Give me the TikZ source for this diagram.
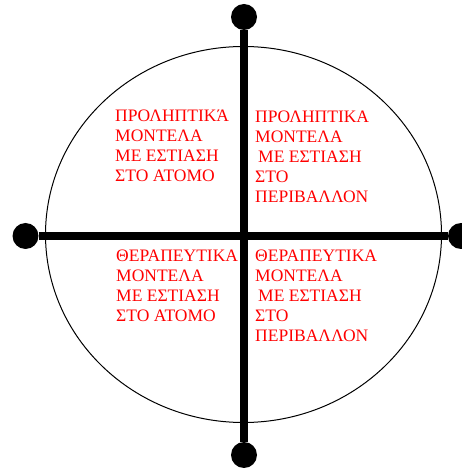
\documentclass[tikz,border=0pt]{standalone}
\usepackage{fontspec}
\setmainfont{Liberation Serif}
\usepackage{tikz}
\usetikzlibrary{positioning}

\begin{document}
\begin{tikzpicture}[
        x=1pt,
        y=1pt,
        axis/.style={line width=8pt, black},
        dot/.style={circle, fill=black, inner sep=0pt, minimum size=26pt},
        model/.style={red, align=left, anchor=base west, inner sep=0pt,
            font=\fontsize{17.5}{20}\selectfont}
    ]
        \useasboundingbox (0,0) rectangle (462,469);

        % outer ring
        \draw[line width=1pt] (243.5,234.5) ellipse [x radius=198, y radius=188];

        % axis end points
        \foreach \name/\x/\y in {top/244/452,bottom/244/14,left/25.5/233,right/461/233} {
            \node[dot] (\name) at (\x,\y) {};
        }
        \draw[axis] (top) -- (bottom);
        \draw[axis] (left) -- (right);

        % the four quadrants (placed by the baseline of the last line)
        \node[model] (prevind) at (115,287) {ΠΡΟΛΗΠΤΙΚΆ\\ΜΟΝΤΕΛΑ\\ΜΕ ΕΣΤΙΑΣΗ\\ΣΤΟ ΑΤΟΜΟ};
        \node[model] (prevenv) at (255,266) {ΠΡΟΛΗΠΤΙΚΑ\\ΜΟΝΤΕΛΑ\\\hspace{3pt}ΜΕ ΕΣΤΙΑΣΗ\\ΣΤΟ\\ΠΕΡΙΒΑΛΛΟΝ};
        \node[model] (therind) at (116,147) {ΘΕΡΑΠΕΥΤΙΚΑ\\ΜΟΝΤΕΛΑ\\ΜΕ ΕΣΤΙΑΣΗ\\ΣΤΟ ΑΤΟΜΟ};
        \node[model] (therenv) at (255,127) {ΘΕΡΑΠΕΥΤΙΚΑ\\ΜΟΝΤΕΛΑ\\\hspace{3pt}ΜΕ ΕΣΤΙΑΣΗ\\ΣΤΟ\\ΠΕΡΙΒΑΛΛΟΝ};
    \end{tikzpicture}
\end{document}
